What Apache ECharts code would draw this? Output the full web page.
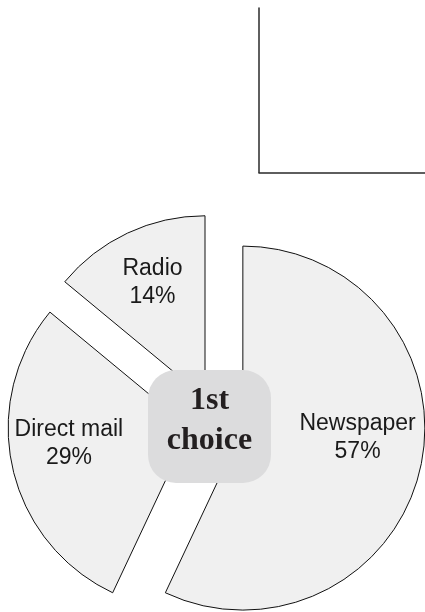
<!DOCTYPE html>
<html>
<head>
<meta charset="utf-8">
<style>
  html, body { margin: 0; padding: 0; background: #ffffff; }
  #chart { width: 425px; height: 612px; }
</style>
<script src="https://cdn.jsdelivr.net/npm/echarts@6/dist/echarts.min.js"></script>
</head>
<body>
<div id="chart"></div>
<script>
// Share of first choices by advertising channel
const categories = ['Newspaper', 'Direct mail', 'Radio'];
const shares = [57, 29, 14];
const centerTitle = '1st\nchoice';

// Per-slice label nudges: left/right padding moves the text sideways,
// an invisible spacer line underneath lifts it above the mid-radius point
const labelPadding = [
  [0, 0, 0, 46],
  [0, 59, 0, 0],
  [0, 25, 0, 0]
];
const labelLift = [22, 10, 60];

const sliceStyle = { color: '#f0f0f0', borderColor: '#111111', borderWidth: 1 };
const labelFont = {
  fontFamily: '"Liberation Sans", Arial, sans-serif',
  fontSize: 23,
  lineHeight: 28,
  color: '#1a1a1a'
};

const chart = echarts.init(document.getElementById('chart'), null, { renderer: 'canvas' });

chart.setOption({
  animation: false,
  backgroundColor: '#ffffff',
  grid: { left: 259, top: 8, right: 0, bottom: 439.5, containLabel: false },
  xAxis: {
    type: 'value', min: 0, max: 1,
    axisLine: { show: true, lineStyle: { color: '#2a2a2a', width: 1.5 } },
    axisTick: { show: false }, axisLabel: { show: false }, splitLine: { show: false }
  },
  yAxis: {
    type: 'value', min: 0, max: 1,
    axisLine: { show: true, lineStyle: { color: '#2a2a2a', width: 1.5 } },
    axisTick: { show: false }, axisLabel: { show: false }, splitLine: { show: false }
  },
  series: [{
    type: 'pie',
    center: [216.5, 422.2],
    radius: [0, 182],
    startAngle: 90,
    clockwise: true,
    selectedMode: 'multiple',
    selectedOffset: 27,
    avoidLabelOverlap: false,
    itemStyle: sliceStyle,
    select: { itemStyle: sliceStyle, label: { show: true } },
    emphasis: { disabled: true },
    label: Object.assign({
      show: true,
      position: 'inside',
      formatter: '{t|{b}}\n{t|{d}%}\n{sp| }',
      rich: { t: labelFont }
    }, labelFont),
    labelLine: { show: false },
    data: categories.map((name, i) => ({
      name: name,
      value: shares[i],
      selected: true,
      label: {
        padding: labelPadding[i],
        rich: {
          t: labelFont,
          sp: { fontSize: 1, lineHeight: labelLift[i], color: 'transparent' }
        }
      }
    }))
  }],
  graphic: [
    {
      type: 'rect',
      z: 100,
      shape: { x: 148, y: 370, width: 123, height: 113, r: 28 },
      style: { fill: '#dcdcdd' }
    },
    {
      type: 'text',
      z: 101,
      x: 209.5,
      y: 421,
      style: {
        text: centerTitle,
        fontFamily: '"Liberation Serif", "Times New Roman", serif',
        fontWeight: 'bold',
        fontSize: 32,
        lineHeight: 40,
        fill: '#231f20',
        align: 'center',
        verticalAlign: 'middle'
      }
    }
  ]
});
</script>
</body>
</html>
